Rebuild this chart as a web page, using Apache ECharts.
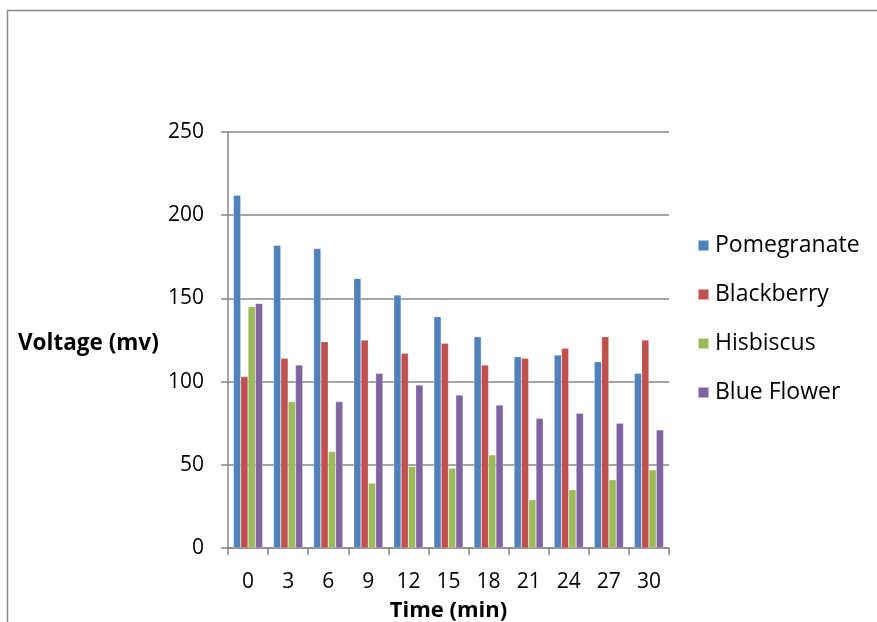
<!DOCTYPE html>
<html><head><meta charset="utf-8">
<script src="https://cdn.jsdelivr.net/npm/echarts@6/dist/echarts.min.js"></script>
<style>html,body{margin:0;padding:0;background:#fff}#c{width:877px;height:622px}</style>
</head><body><div id="c"></div>
<script>
const categories = ['0','3','6','9','12','15','18','21','24','27','30'];
const pomegranate = [212,182,180,162,152,139,127,115,116,112,105];
const blackberry = [103,114,124,125,117,123,110,114,120,127,125];
const hisbiscus = [145,88,58,39,49,48,56,29,35,41,47];
const blueFlower = [147,110,88,105,98,92,86,78,81,75,71];
const seriesNames = ['Pomegranate','Blackberry','Hisbiscus','Blue Flower'];
const colors = ['#4F81BD','#C0504D','#9BBB59','#8064A2'];
const font = '"Open Sans", "Noto Sans", sans-serif';

const chart = echarts.init(document.getElementById('c'), null, {renderer:'canvas'});
const data = [pomegranate, blackberry, hisbiscus, blueFlower];
chart.setOption({
  animation:false,
  textStyle:{fontFamily:font},
  grid:{left:228,top:132,width:441,height:416,containLabel:false,outerBoundsMode:'none'},
  legend:{
    orient:'vertical', left:692, top:229, itemWidth:11, itemHeight:11, itemGap:26,
    icon:'rect',
    textStyle:{fontSize:23, lineHeight:22, color:'#000', fontFamily:font, padding:[0,0,0,1]},
    data:seriesNames
  },
  xAxis:{
    type:'category', data:categories,
    axisLine:{lineStyle:{color:'#868686',width:1.5}},
    axisTick:{show:true, length:7, alignWithLabel:false, lineStyle:{color:'#868686',width:1.5}},
    axisLabel:{fontSize:21, color:'#000', margin:24, fontFamily:font},
    name:'Time (min)', nameLocation:'middle', nameGap:52,
    nameTextStyle:{fontSize:22, fontWeight:'bold', color:'#000', fontFamily:font}
  },
  yAxis:{
    type:'value', min:0, max:250, interval:50,
    axisLine:{show:true, lineStyle:{color:'#868686',width:1.5}},
    axisTick:{show:true, length:7, lineStyle:{color:'#868686',width:1.5}},
    splitLine:{lineStyle:{color:'#868686',width:1.5}},
    axisLabel:{fontSize:21, color:'#000', margin:24, fontFamily:font}
  },
  graphic:[
    {type:'rect', left:5, top:8, shape:{x:0,y:0,width:900,height:700}, style:{fill:'none', stroke:'#8a8a8a', lineWidth:1.5}, silent:true},
    {type:'text', left:18, top:332, style:{text:'Voltage (mv)', fontSize:22.5, fontWeight:'bold', fill:'#000', fontFamily:font}}
  ],
  series: seriesNames.map((n,i)=>({
    name:n, type:'bar', data:data[i], barGap:'0%', barCategoryGap:'27%',
    itemStyle:{color:colors[i], borderColor:'rgba(255,255,255,0.5)', borderWidth:0.5}
  }))
});
</script></body></html>
